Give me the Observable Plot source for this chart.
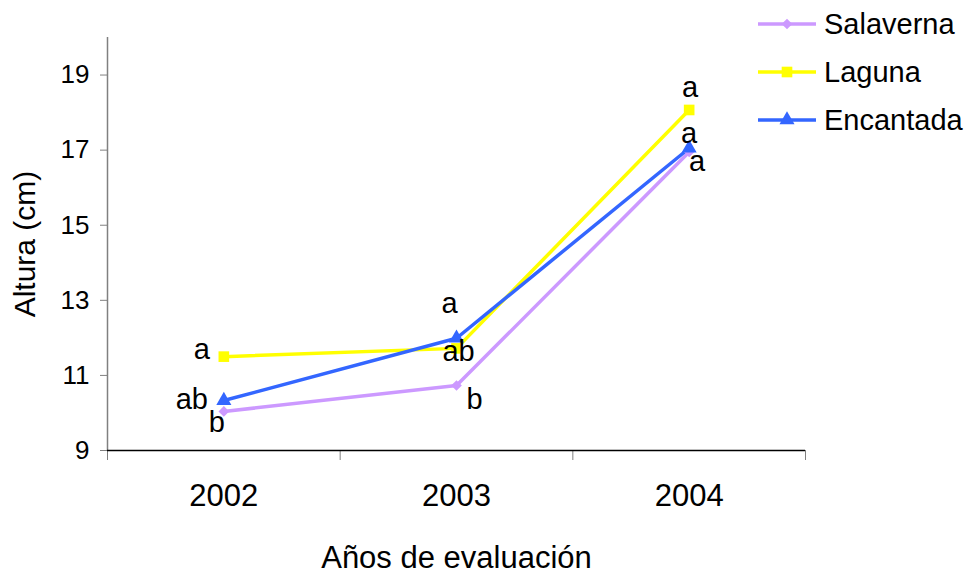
<!DOCTYPE html>
<html>
<head>
<meta charset="utf-8">
<script src="https://cdn.jsdelivr.net/npm/d3@7"></script>
<script src="https://cdn.jsdelivr.net/npm/@observablehq/plot@0.6"></script>
<style>
  body { margin: 0; background: white; }
  #chart { position: relative; width: 976px; height: 582px; font-family: "Liberation Sans", Arial, sans-serif; }
  #legend { position: absolute; left: 0; top: 0; }
  .item { position: absolute; left: 756px; height: 32px; display: flex; align-items: center; font-size: 29px; color: black; white-space: nowrap; }
  .item svg { margin-right: 6px; }
</style>
</head>
<body>
<div id="chart"><div id="legend"></div></div>
<script>
// Plant height by site and evaluation year
const years = [2002, 2003, 2004];
const series = ["Salaverna", "Laguna", "Encantada"];
const salaverna = [10.04, 10.73, 16.95];
const laguna = [11.5, 11.72, 18.07];
const encantada = [10.33, 11.99, 17.05];
// significance letters per site and year
const lettersSalaverna = ["b", "b", "a"];
const lettersLaguna = ["a", "ab", "a"];
const lettersEncantada = ["ab", "a", "a"];
const yTicks = [9, 11, 13, 15, 17, 19];

const colors = ["#CC99FF", "#FFFF00", "#3366FF"];
const symbols = ["diamond2", "square", "triangle"];
const radii = [4.8, 6, 5.6];

const values = [salaverna, laguna, encantada];
const letters = [lettersSalaverna, lettersLaguna, lettersEncantada];

const rows = series.flatMap((s, i) =>
  years.map((year, j) => ({series: s, year, value: values[i][j], letter: letters[i][j]}))
);

// label placement around each point, in pixels [dx, dy]
const labelOffsets = {
  Salaverna: [[-7, 11], [18, 14], [8, 10]],
  Laguna: [[-22, -7], [2, 3], [1, -22]],
  Encantada: [[-32, -1], [-7, -35], [0, -15]]
};

const boundaries = [2001.5, 2002.5, 2003.5, 2004.5];

const marks = [
  Plot.ruleX([2001.5], {stroke: "#808080", strokeWidth: 1.5}),
  Plot.axisY({ticks: yTicks, tickSize: 7, tickPadding: 11, stroke: "#808080", fontSize: 26, label: null}),
  Plot.axisX({ticks: boundaries, tickFormat: () => "", tickSize: 10, stroke: "#808080", label: null}),
  Plot.axisX({ticks: years, tickFormat: d => String(d), tickSize: 0, tickPadding: 33, fontSize: 31, label: null}),
  Plot.ruleY([9], {stroke: "black", strokeWidth: 1.5}),
  Plot.text(["Altura (cm)"], {frameAnchor: "left", textAnchor: "middle", rotate: -90, dx: -82, fontSize: 30}),
  Plot.text(["Años de evaluación"], {frameAnchor: "bottom", textAnchor: "middle", dy: 117, fontSize: 31}),
  Plot.line(rows, {x: "year", y: "value", z: "series", stroke: "series", strokeWidth: 3.5})
];

series.forEach((s, i) => {
  marks.push(Plot.dot(rows.filter(d => d.series === s), {
    x: "year", y: "value", fill: colors[i], symbol: () => symbols[i], r: radii[i]
  }));
});

rows.forEach(d => {
  const j = years.indexOf(d.year);
  const [dx, dy] = labelOffsets[d.series][j];
  marks.push(Plot.text([d], {x: "year", y: "value", text: "letter", dx, dy, fontSize: 29, fill: "black"}));
});

const chart = Plot.plot({
  width: 976,
  height: 582,
  marginLeft: 107,
  marginRight: 171,
  marginTop: 37,
  marginBottom: 132,
  x: {domain: [2001.5, 2004.5]},
  y: {domain: [9, 20]},
  color: {domain: series, range: colors},
  symbol: {domain: symbols, range: symbols},
  style: {fontFamily: "'Liberation Sans', Arial, sans-serif", fontSize: "26px", background: "white", color: "black", overflow: "visible"},
  marks
});

const container = document.getElementById("chart");
container.insertBefore(chart, container.firstChild);

// legend: line swatch with the series marker, then the name
const legend = document.getElementById("legend");
const legendCenters = [24, 72, 120];
series.forEach((s, i) => {
  const item = document.createElement("div");
  item.className = "item";
  item.style.top = (legendCenters[i] - 16) + "px";
  const sw = d3.create("svg").attr("width", 62).attr("height", 20);
  sw.append("line").attr("x1", 2).attr("x2", 60).attr("y1", 10).attr("y2", 10)
    .attr("stroke", colors[i]).attr("stroke-width", 3.5);
  const sym = {diamond2: d3.symbolDiamond2, square: d3.symbolSquare, triangle: d3.symbolTriangle}[symbols[i]];
  sw.append("path").attr("transform", "translate(31,10)")
    .attr("d", d3.symbol(sym, radii[i] * radii[i] * Math.PI)()).attr("fill", colors[i]);
  item.appendChild(sw.node());
  const label = document.createElement("span");
  label.textContent = s;
  item.appendChild(label);
  legend.appendChild(item);
});
</script>
</body>
</html>
